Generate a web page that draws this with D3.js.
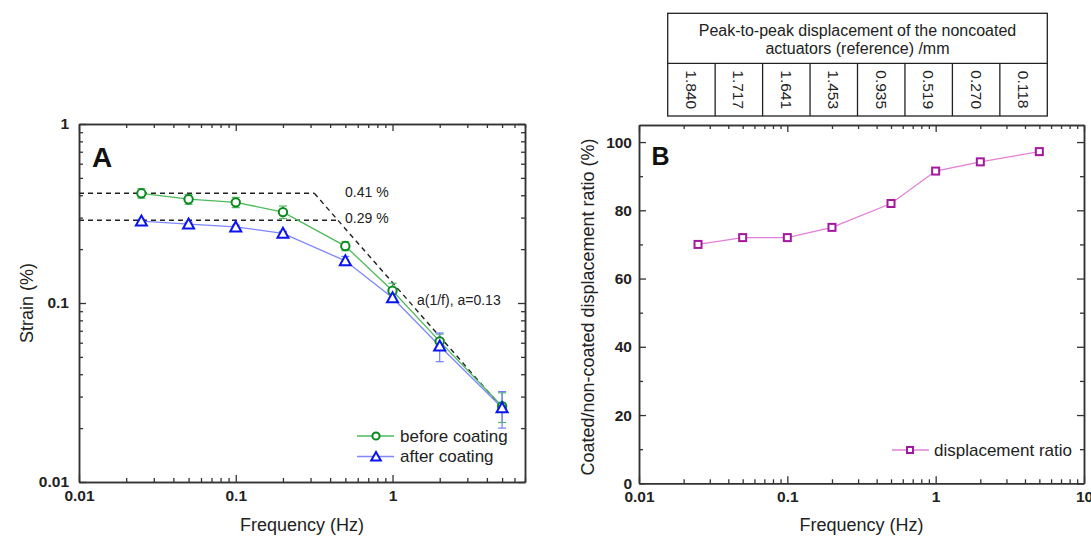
<!doctype html>
<html>
<head>
<meta charset="utf-8">
<script src="https://d3js.org/d3.v7.min.js"></script>
<style>
  body { margin: 0; background: #fff; }
  svg { font-family: Arial, "Liberation Sans", sans-serif; }
  .axis path, .axis line { stroke: #333; }
  .axis path { stroke-width: 1.5; }
  .axis line { stroke-width: 1.3; }
  .axis text { font-size: 15.5px; font-weight: bold; fill: #222; }
</style>
</head>
<body>
<svg width="1091" height="536"></svg>
<script>
// data
var freq = [0.025, 0.05, 0.1, 0.2, 0.5, 1, 2, 5];
var strainBefore = [0.41, 0.38, 0.365, 0.322, 0.208, 0.117, 0.061, 0.0265];
var errBefore = [0.025, 0.024, 0.024, 0.026, 0.012, 0.012, 0.006, 0.005];
var strainAfter = [0.287, 0.276, 0.266, 0.245, 0.172, 0.107, 0.0575, 0.026];
var errAfter = [0.006, 0.006, 0.006, 0.006, 0.01, 0.006, 0.0105, 0.006];
var ratio = [70, 72, 72, 75, 82, 91.5, 94.2, 97.2];
var refDisp = ["1.840", "1.717", "1.641", "1.453", "0.935", "0.519", "0.270", "0.118"];
var plateauHigh = 0.41, plateauLow = 0.29, slopeA = 0.13;

var svg = d3.select("svg");

function logMinors(lo, hi) {
  var out = [];
  for (var d = lo; d < hi; d *= 10)
    for (var k = 2; k <= 9; k++) if (d * k <= hi) out.push(d * k);
  return out;
}

function drawFrame(g, x, y, w, h, xMaj, xMin, yMaj, yMin, xFmt, yFmt, yPad) {
  g.append("g").attr("class", "axis").attr("transform", "translate(0," + h + ")")
    .call(d3.axisBottom(x).tickValues(xMaj).tickSizeInner(-7).tickSizeOuter(0).tickPadding(8).tickFormat(xFmt));
  g.append("g").attr("class", "axis").attr("transform", "translate(0," + h + ")")
    .call(d3.axisBottom(x).tickValues(xMin).tickSizeInner(-4).tickSizeOuter(0).tickFormat(""));
  g.append("g").attr("class", "axis")
    .call(d3.axisTop(x).tickValues(xMaj).tickSizeInner(-7).tickSizeOuter(0).tickFormat(""));
  g.append("g").attr("class", "axis")
    .call(d3.axisTop(x).tickValues(xMin).tickSizeInner(-4).tickSizeOuter(0).tickFormat(""));
  g.append("g").attr("class", "axis")
    .call(d3.axisLeft(y).tickValues(yMaj).tickSizeInner(-7).tickSizeOuter(0).tickPadding(yPad).tickFormat(yFmt));
  g.append("g").attr("class", "axis")
    .call(d3.axisLeft(y).tickValues(yMin).tickSizeInner(-4).tickSizeOuter(0).tickFormat(""));
  g.append("g").attr("class", "axis").attr("transform", "translate(" + w + ",0)")
    .call(d3.axisRight(y).tickValues(yMaj).tickSizeInner(-7).tickSizeOuter(0).tickFormat(""));
  g.append("g").attr("class", "axis").attr("transform", "translate(" + w + ",0)")
    .call(d3.axisRight(y).tickValues(yMin).tickSizeInner(-4).tickSizeOuter(0).tickFormat(""));
}

var logFmt = function(d) { return String(d); };

// ---------- Panel A ----------
var A = {left: 79, top: 124, w: 446, h: 358};
var gA = svg.append("g").attr("transform", "translate(" + A.left + "," + A.top + ")");
var xA = d3.scaleLog().domain([0.01, 7]).range([0, A.w]);
var yA = d3.scaleLog().domain([0.01, 1]).range([A.h, 0]);

drawFrame(gA, xA, yA, A.w, A.h, [0.01, 0.1, 1], logMinors(0.01, 7),
  [0.01, 0.1, 1], logMinors(0.01, 1), logFmt, logFmt, 10);

// dashed guides
var fHigh = slopeA / plateauHigh, fLow = slopeA / plateauLow;
var guides = gA.append("g").attr("stroke", "#222").attr("stroke-width", 1.4).attr("stroke-dasharray", "5,4");
guides.append("line").attr("x1", 0).attr("x2", xA(fHigh))
  .attr("y1", yA(plateauHigh)).attr("y2", yA(plateauHigh));
guides.append("line").attr("x1", 0).attr("x2", xA(fLow))
  .attr("y1", yA(plateauLow)).attr("y2", yA(plateauLow));
guides.append("line").attr("x1", xA(fHigh)).attr("x2", xA(5))
  .attr("y1", yA(plateauHigh)).attr("y2", yA(slopeA / 5));

gA.append("text").attr("x", 266).attr("y", yA(plateauHigh) - 1).attr("dy", "0.35em")
  .attr("font-size", 14).attr("fill", "#222").text("0.41 %");
gA.append("text").attr("x", 266).attr("y", yA(plateauLow) - 2).attr("dy", "0.35em")
  .attr("font-size", 14).attr("fill", "#222").text("0.29 %");
gA.append("text").attr("x", 338).attr("y", 176).attr("dy", "0.35em")
  .attr("font-size", 14).attr("fill", "#222").text("a(1/f), a=0.13");

var lineA = function(vals) {
  return d3.line().x(function(d, i) { return xA(freq[i]); }).y(function(d) { return yA(d); })(vals);
};

function errBars(g, vals, errs, color) {
  vals.forEach(function(v, i) {
    var cx = xA(freq[i]), y1 = yA(v + errs[i]), y2 = yA(v - errs[i]);
    g.append("line").attr("x1", cx).attr("x2", cx).attr("y1", y1).attr("y2", y2)
      .attr("stroke", color).attr("stroke-width", 1.2);
    [y1, y2].forEach(function(yy) {
      g.append("line").attr("x1", cx - 4).attr("x2", cx + 4).attr("y1", yy).attr("y2", yy)
        .attr("stroke", color).attr("stroke-width", 1.2);
    });
  });
}

var green = "#0a8a1e", greenLine = "#4dbb5a", blue = "#0a14f0", blueLine = "#7d86ff";
var triPath = "M0,-6L5.5,4L-5.5,4Z";

gA.append("path").attr("d", lineA(strainBefore)).attr("fill", "none")
  .attr("stroke", greenLine).attr("stroke-width", 1.3);
gA.append("path").attr("d", lineA(strainAfter)).attr("fill", "none")
  .attr("stroke", blueLine).attr("stroke-width", 1.3);
errBars(gA, strainBefore, errBefore, "#55b860");
errBars(gA, strainAfter, errAfter, "#6f7cff");

gA.selectAll(".circ").data(strainBefore).enter().append("circle")
  .attr("cx", function(d, i) { return xA(freq[i]); }).attr("cy", function(d) { return yA(d); })
  .attr("r", 4.2).attr("fill", "white").attr("stroke", green).attr("stroke-width", 2);
gA.selectAll(".tri").data(strainAfter).enter().append("path")
  .attr("d", triPath)
  .attr("transform", function(d, i) { return "translate(" + xA(freq[i]) + "," + (yA(d) + 0.5) + ")"; })
  .attr("fill", "white").attr("stroke", blue).attr("stroke-width", 2);

// legend A
var legA = gA.append("g").attr("transform", "translate(278,312)");
legA.append("line").attr("x1", 0).attr("x2", 37).attr("stroke", greenLine).attr("stroke-width", 1.3);
legA.append("circle").attr("cx", 19).attr("r", 3.6).attr("fill", "white").attr("stroke", green).attr("stroke-width", 2);
legA.append("text").attr("x", 43).attr("dy", "0.35em").attr("font-size", 17).attr("fill", "#222").text("before coating");
legA.append("line").attr("x1", 0).attr("x2", 37).attr("y1", 20.5).attr("y2", 20.5).attr("stroke", blueLine).attr("stroke-width", 1.3);
legA.append("path").attr("d", "M0,-5L4.8,3.5L-4.8,3.5Z").attr("transform", "translate(19,21)")
  .attr("fill", "white").attr("stroke", blue).attr("stroke-width", 2);
legA.append("text").attr("x", 43).attr("y", 20.5).attr("dy", "0.35em").attr("font-size", 17).attr("fill", "#222").text("after coating");

gA.append("text").attr("x", 13).attr("y", 43).attr("font-size", 28).attr("font-weight", "bold")
  .attr("fill", "#111").text("A");

svg.append("text").attr("transform", "translate(27,303) rotate(-90)").attr("text-anchor", "middle")
  .attr("dy", "0.35em").attr("font-size", 18).attr("fill", "#222").text("Strain (%)");
svg.append("text").attr("x", A.left + A.w / 2).attr("y", 525).attr("text-anchor", "middle")
  .attr("dy", "0.35em").attr("font-size", 18).attr("fill", "#222").text("Frequency (Hz)");

// ---------- Panel B ----------
var B = {left: 639, top: 125, w: 445, h: 358.3};
var gB = svg.append("g").attr("transform", "translate(" + B.left + "," + B.top + ")");
var xB = d3.scaleLog().domain([0.01, 10]).range([0, B.w]);
var yB = d3.scaleLinear().domain([0, 105]).range([B.h, 0]);

drawFrame(gB, xB, yB, B.w, B.h, [0.01, 0.1, 1, 10], logMinors(0.01, 10),
  [0, 20, 40, 60, 80, 100], [10, 30, 50, 70, 90], logFmt, d3.format("d"), 7);

var pink = "#e27fd6", magenta = "#a3189e";
gB.append("path")
  .attr("d", d3.line().x(function(d, i) { return xB(freq[i]); }).y(function(d) { return yB(d); })(ratio))
  .attr("fill", "none").attr("stroke", pink).attr("stroke-width", 1.3);
gB.selectAll(".sq").data(ratio).enter().append("rect")
  .attr("x", function(d, i) { return xB(freq[i]) - 3.5; }).attr("y", function(d) { return yB(d) - 3.5; })
  .attr("width", 7).attr("height", 7).attr("fill", "white").attr("stroke", magenta).attr("stroke-width", 2);

var legB = gB.append("g").attr("transform", "translate(253,325)");
legB.append("line").attr("x1", 0).attr("x2", 37).attr("stroke", pink).attr("stroke-width", 1.3);
legB.append("rect").attr("x", 15).attr("y", -3).attr("width", 6).attr("height", 6)
  .attr("fill", "white").attr("stroke", magenta).attr("stroke-width", 2);
legB.append("text").attr("x", 42).attr("dy", "0.35em").attr("font-size", 17).attr("fill", "#222").text("displacement ratio");

gB.append("text").attr("x", 12.5).attr("y", 40).attr("font-size", 25).attr("font-weight", "bold")
  .attr("fill", "#111").text("B");

svg.append("text").attr("transform", "translate(588,307) rotate(-90)").attr("text-anchor", "middle")
  .attr("dy", "0.35em").attr("font-size", 18).attr("fill", "#222").text("Coated/non-coated displacement ratio (%)");
svg.append("text").attr("x", B.left + B.w / 2).attr("y", 525).attr("text-anchor", "middle")
  .attr("dy", "0.35em").attr("font-size", 18).attr("fill", "#222").text("Frequency (Hz)");

// ---------- reference table ----------
var T = {left: 667.7, top: 13.3, right: 1047.3, mid: 63.3, bottom: 116};
var colW = (T.right - T.left) / refDisp.length;
var gT = svg.append("g");
gT.append("rect").attr("x", T.left).attr("y", T.top).attr("width", T.right - T.left)
  .attr("height", T.bottom - T.top).attr("fill", "none").attr("stroke", "#222").attr("stroke-width", 1.3);
gT.append("line").attr("x1", T.left).attr("x2", T.right).attr("y1", T.mid).attr("y2", T.mid)
  .attr("stroke", "#222").attr("stroke-width", 1.3);
refDisp.forEach(function(v, i) {
  if (i > 0) gT.append("line").attr("x1", T.left + i * colW).attr("x2", T.left + i * colW)
    .attr("y1", T.mid).attr("y2", T.bottom).attr("stroke", "#222").attr("stroke-width", 1.3);
  gT.append("text")
    .attr("transform", "translate(" + (T.left + (i + 0.5) * colW) + "," + ((T.mid + T.bottom) / 2) + ") rotate(90)")
    .attr("text-anchor", "middle").attr("dy", "0.35em").attr("font-size", 15.5).attr("fill", "#222").text(v);
});
var cx = (T.left + T.right) / 2;
gT.append("text").attr("x", cx).attr("y", 30).attr("text-anchor", "middle").attr("dy", "0.35em")
  .attr("font-size", 16).attr("fill", "#222").text("Peak-to-peak displacement of the noncoated");
gT.append("text").attr("x", cx).attr("y", 48).attr("text-anchor", "middle").attr("dy", "0.35em")
  .attr("font-size", 16).attr("fill", "#222").text("actuators (reference) /mm");
</script>
</body>
</html>
